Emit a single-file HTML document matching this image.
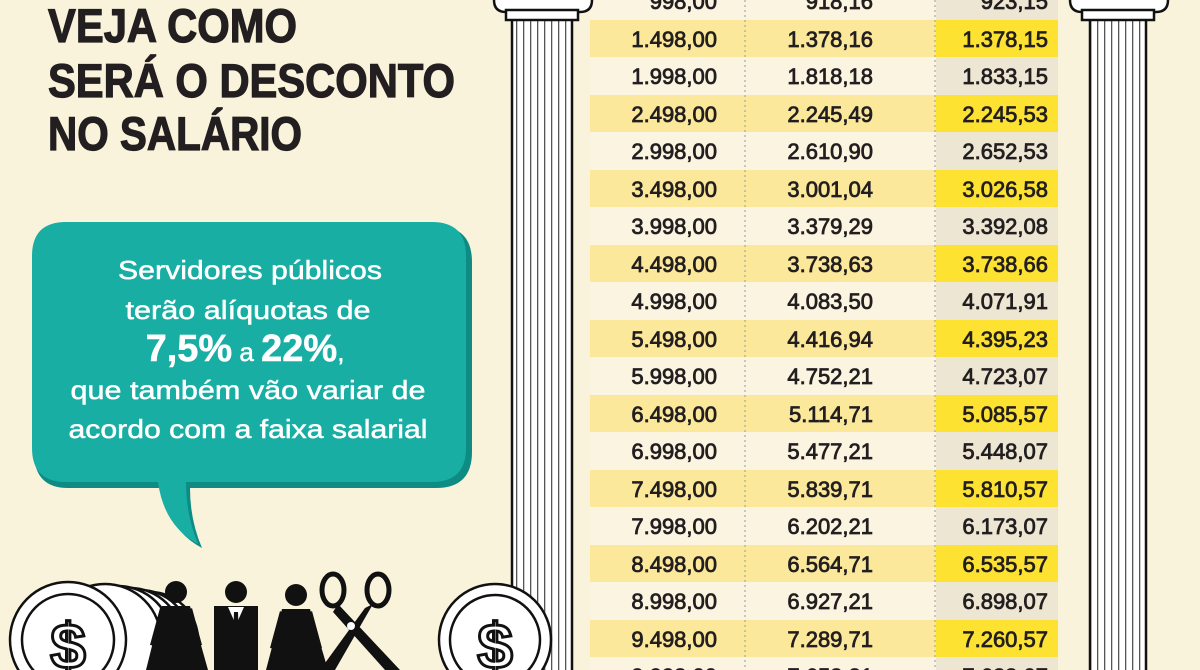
<!DOCTYPE html>
<html><head><meta charset="utf-8"><style>
html,body{margin:0;padding:0;background:#f9f3dc;}
svg{display:block}
</style></head><body>
<svg width="1200" height="670" viewBox="0 0 1200 670" xmlns="http://www.w3.org/2000/svg" font-family="Liberation Sans, sans-serif">
<rect width="1200" height="670" fill="#f9f3dc"/>
<g fill="#231f20" stroke="#231f20" stroke-width="1.2" font-weight="bold" font-size="47">
<text x="48" y="42" textLength="249" lengthAdjust="spacingAndGlyphs">VEJA COMO</text>
<text x="48" y="97" textLength="407" lengthAdjust="spacingAndGlyphs">SERÁ O DESCONTO</text>
<text x="48" y="150" textLength="254" lengthAdjust="spacingAndGlyphs">NO SALÁRIO</text>
</g>
<path d="M70 226 H436 Q472 226 472 262 V452 Q472 488 436 488 H190 Q190 520 202 548 Q168 530 162 488 H68 Q34 488 34 452 V262 Q34 226 70 226Z" fill="#0e8c83"/>
<path d="M66 222 H432 Q466 222 466 256 V448 Q466 482 432 482 H186 Q186 515 198 544 Q164 526 158 482 H66 Q32 482 32 448 V256 Q32 222 66 222Z" fill="#18aea4"/>
<g fill="#fff" stroke="#fff" stroke-width="0.5" text-anchor="middle">
<text x="250" y="279" font-size="26" textLength="264" lengthAdjust="spacingAndGlyphs">Servidores públicos</text>
<text x="248" y="319" font-size="26" textLength="245" lengthAdjust="spacingAndGlyphs">terão alíquotas de</text>
<text x="245" y="361" font-size="26"><tspan font-size="38" font-weight="bold">7,5%</tspan> a <tspan font-size="38" font-weight="bold">22%</tspan>,</text>
<text x="248" y="399" font-size="26" textLength="355" lengthAdjust="spacingAndGlyphs">que também vão variar de</text>
<text x="248" y="438" font-size="26" textLength="359" lengthAdjust="spacingAndGlyphs">acordo com a faixa salarial</text>
</g>
<rect x="590" y="0" width="468" height="670" fill="#faf4e0"/>
<rect x="936" y="0" width="122" height="670" fill="#ece6d3"/>
<g>
<rect x="590" y="20" width="468" height="37" fill="#fbe89a"/><rect x="936" y="20" width="122" height="37" fill="#fde232"/>
<rect x="590" y="95" width="468" height="37" fill="#fbe89a"/><rect x="936" y="95" width="122" height="37" fill="#fde232"/>
<rect x="590" y="170" width="468" height="37" fill="#fbe89a"/><rect x="936" y="170" width="122" height="37" fill="#fde232"/>
<rect x="590" y="245" width="468" height="37" fill="#fbe89a"/><rect x="936" y="245" width="122" height="37" fill="#fde232"/>
<rect x="590" y="320" width="468" height="37" fill="#fbe89a"/><rect x="936" y="320" width="122" height="37" fill="#fde232"/>
<rect x="590" y="395" width="468" height="37" fill="#fbe89a"/><rect x="936" y="395" width="122" height="37" fill="#fde232"/>
<rect x="590" y="470" width="468" height="37" fill="#fbe89a"/><rect x="936" y="470" width="122" height="37" fill="#fde232"/>
<rect x="590" y="545" width="468" height="37" fill="#fbe89a"/><rect x="936" y="545" width="122" height="37" fill="#fde232"/>
<rect x="590" y="620" width="468" height="37" fill="#fbe89a"/><rect x="936" y="620" width="122" height="37" fill="#fde232"/>
</g>
<line x1="745" y1="0" x2="745" y2="670" stroke="#999" stroke-dasharray="2,3"/>
<line x1="935" y1="0" x2="935" y2="670" stroke="#999" stroke-dasharray="2,3"/>
<g fill="#231f20" font-size="22" stroke="#231f20" stroke-width="0.8" text-anchor="end">
<text x="717" y="9">998,00</text><text x="873" y="9">918,16</text><text x="1048" y="9">923,15</text>
<text x="717" y="47">1.498,00</text><text x="873" y="47">1.378,16</text><text x="1048" y="47">1.378,15</text>
<text x="717" y="84">1.998,00</text><text x="873" y="84">1.818,18</text><text x="1048" y="84">1.833,15</text>
<text x="717" y="122">2.498,00</text><text x="873" y="122">2.245,49</text><text x="1048" y="122">2.245,53</text>
<text x="717" y="159">2.998,00</text><text x="873" y="159">2.610,90</text><text x="1048" y="159">2.652,53</text>
<text x="717" y="197">3.498,00</text><text x="873" y="197">3.001,04</text><text x="1048" y="197">3.026,58</text>
<text x="717" y="234">3.998,00</text><text x="873" y="234">3.379,29</text><text x="1048" y="234">3.392,08</text>
<text x="717" y="272">4.498,00</text><text x="873" y="272">3.738,63</text><text x="1048" y="272">3.738,66</text>
<text x="717" y="309">4.998,00</text><text x="873" y="309">4.083,50</text><text x="1048" y="309">4.071,91</text>
<text x="717" y="347">5.498,00</text><text x="873" y="347">4.416,94</text><text x="1048" y="347">4.395,23</text>
<text x="717" y="384">5.998,00</text><text x="873" y="384">4.752,21</text><text x="1048" y="384">4.723,07</text>
<text x="717" y="422">6.498,00</text><text x="873" y="422">5.114,71</text><text x="1048" y="422">5.085,57</text>
<text x="717" y="459">6.998,00</text><text x="873" y="459">5.477,21</text><text x="1048" y="459">5.448,07</text>
<text x="717" y="497">7.498,00</text><text x="873" y="497">5.839,71</text><text x="1048" y="497">5.810,57</text>
<text x="717" y="534">7.998,00</text><text x="873" y="534">6.202,21</text><text x="1048" y="534">6.173,07</text>
<text x="717" y="572">8.498,00</text><text x="873" y="572">6.564,71</text><text x="1048" y="572">6.535,57</text>
<text x="717" y="609">8.998,00</text><text x="873" y="609">6.927,21</text><text x="1048" y="609">6.898,07</text>
<text x="717" y="647">9.498,00</text><text x="873" y="647">7.289,71</text><text x="1048" y="647">7.260,57</text>
<text x="717" y="684">9.998,00</text><text x="873" y="684">7.652,21</text><text x="1048" y="684">7.623,07</text>
</g>
<defs>
<pattern id="fl" width="7" height="10" patternUnits="userSpaceOnUse"><rect width="7" height="10" fill="#fff"/><rect x="5" width="1.3" height="10" fill="#555"/></pattern>
</defs>
<g stroke="#111" stroke-width="2.5">
<rect x="512" y="18" width="60" height="660" fill="url(#fl)"/>
<path d="M494 0 Q494 12 506 12 H580 Q592 12 592 0" fill="#fff"/>
<rect x="506" y="10" width="72" height="10" fill="#fff"/>
<rect x="1090" y="18" width="56" height="660" fill="url(#fl)"/>
<path d="M1070 0 Q1070 12 1082 12 H1156 Q1168 12 1168 0" fill="#fff"/>
<rect x="1082" y="10" width="72" height="10" fill="#fff"/>
</g>
<g stroke="#111" stroke-width="2.5" fill="#fff">
<circle cx="150" cy="640" r="48"/><circle cx="140" cy="640" r="50"/><circle cx="130" cy="640" r="52"/><circle cx="118" cy="640" r="54"/><circle cx="105" cy="640" r="56"/>
<circle cx="68" cy="640" r="58"/><circle cx="68" cy="640" r="46"/>
<circle cx="495" cy="640" r="56"/><circle cx="495" cy="640" r="45"/>
</g>
<g fill="#111" font-weight="bold" font-size="64" text-anchor="middle">
<text x="68" y="668" fill="#fff" stroke="#111" stroke-width="3">$</text>
<text x="495" y="668" fill="#fff" stroke="#111" stroke-width="3">$</text>
</g>
<g fill="#111">
<circle cx="176" cy="592" r="11"/><path d="M162 606 H190 L208 670 H146Z"/><path d="M160 608 L150 645 L156 646 L166 612Z M192 608 L202 645 L196 646 L186 612Z"/>
<circle cx="236" cy="592" r="11"/><path d="M214 606 H258 V670 H214Z"/>
<circle cx="296" cy="595" r="11"/><path d="M282 609 H310 L328 670 H266Z"/><path d="M280 611 L270 648 L276 649 L286 615Z M312 611 L322 648 L316 649 L306 615Z"/>
</g>
<path d="M228 607 L236 625 L244 607Z" fill="#fff"/><path d="M234 612 L238 612 L239 640 L236 644 L233 640Z" fill="#111"/>
<g stroke="#111" fill="none" stroke-width="5">
<ellipse cx="333" cy="590" rx="11" ry="16"/><ellipse cx="378" cy="590" rx="11" ry="16"/>
</g>
<path d="M338 604 L400 670 H385 L333 612Z M373 604 L335 670 H320 L365 608Z" fill="#111"/>
<circle cx="351" cy="626" r="4" fill="#fff"/>
</svg>
</body></html>
